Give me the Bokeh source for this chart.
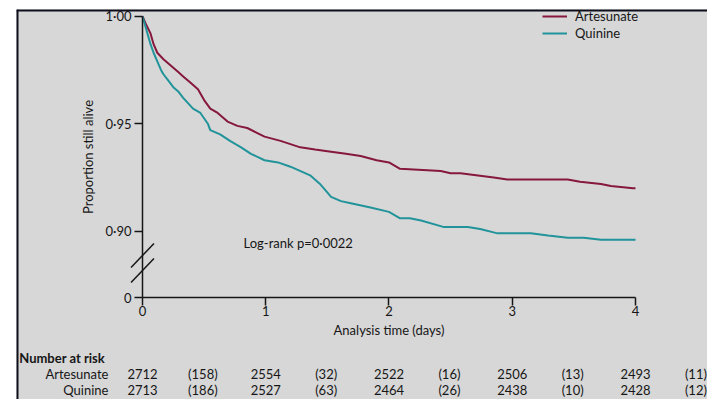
from bokeh.plotting import figure
from bokeh.models import Range1d, FixedTicker, CustomJSTickFormatter, Legend, LegendItem, Label, Span
from bokeh.embed import file_html
from bokeh.resources import INLINE
from bokeh.core.properties import value

# ---- data ----
time_art = [0, 0.03, 0.065, 0.09, 0.12, 0.17, 0.21, 0.25, 0.29, 0.33, 0.39, 0.45, 0.50, 0.55,
            0.61, 0.69, 0.77, 0.85, 0.92, 0.99, 1.12, 1.28, 1.40, 1.53, 1.65, 1.77, 1.90, 2.00,
            2.09, 2.42, 2.50, 2.58, 2.85, 2.96, 3.45, 3.55, 3.72, 3.80, 3.98, 4.0]
surv_art = [1.000, 0.996, 0.992, 0.987, 0.983, 0.980, 0.978, 0.976, 0.974, 0.972, 0.969, 0.966,
            0.961, 0.957, 0.955, 0.951, 0.949, 0.948, 0.946, 0.944, 0.942, 0.939, 0.938, 0.937,
            0.936, 0.935, 0.933, 0.932, 0.929, 0.928, 0.927, 0.927, 0.925, 0.924, 0.924, 0.923,
            0.922, 0.921, 0.920, 0.920]
time_qui = [0, 0.02, 0.04, 0.065, 0.09, 0.12, 0.15, 0.17, 0.21, 0.25, 0.29, 0.33, 0.41, 0.47,
            0.53, 0.55, 0.63, 0.71, 0.80, 0.88, 0.99, 1.10, 1.20, 1.36, 1.44, 1.53, 1.61, 1.69,
            1.85, 2.00, 2.09, 2.17, 2.26, 2.44, 2.64, 2.74, 2.88, 3.15, 3.29, 3.45, 3.58, 3.72, 4.0]
surv_qui = [1.000, 0.996, 0.992, 0.987, 0.983, 0.979, 0.975, 0.973, 0.970, 0.967, 0.965, 0.962,
            0.957, 0.955, 0.950, 0.947, 0.945, 0.942, 0.939, 0.936, 0.933, 0.932, 0.930, 0.926,
            0.922, 0.916, 0.914, 0.913, 0.911, 0.909, 0.906, 0.906, 0.905, 0.902, 0.902, 0.901,
            0.899, 0.899, 0.898, 0.897, 0.897, 0.896, 0.896]

risk_times = [0, 1, 2, 3, 4]
risk_art = [2712, 2554, 2522, 2506, 2493]
cens_art = [158, 32, 16, 13, 11]
risk_qui = [2713, 2527, 2464, 2438, 2428]
cens_qui = [186, 63, 26, 10, 12]
groups = ["Artesunate", "Quinine"]
x_ticks = [0, 1, 2, 3, 4]
y_ticks = [0.90, 0.95, 1.00]
logrank_text = "Log-rank p=0\u00b70022"

# ---- styling / layout constants ----
BG = "#d7d7d7"
INK = "#161616"
FRAME_INK = "#0e0e1c"
RED = "#86173d"
TEAL = "#21939a"
FONT = "Lato"
Y_ZERO = 0.869          # where "0" sits on the broken axis
BREAKS = [0.8887, 0.8817]
Y_HEAD, Y_ART, Y_QUI = 0.84107, 0.83363, 0.82619
X0, X1 = -1.0223, 4.5842
Y0, Y1 = 0.82172, 1.00312

p = figure(width=707, height=399, x_range=Range1d(X0, X1), y_range=Range1d(Y0, Y1),
           toolbar_location=None, output_backend="svg",
           min_border_left=16, min_border_top=9, min_border_right=0, min_border_bottom=0,
           background_fill_color=BG, border_fill_color="white", outline_line_color=None)
p.grid.visible = False

# dark frame lines along the top and left edges of the panel
p.add_layout(Span(location=X0, dimension="height", line_color=FRAME_INK, line_width=4))
p.add_layout(Span(location=Y1, dimension="width", line_color=FRAME_INK, line_width=4))

r_art = p.line(time_art, surv_art, line_color=RED, line_width=2)
r_qui = p.line(time_qui, surv_qui, line_color=TEAL, line_width=2)

# axes
for ax in (p.xaxis[0], p.yaxis[0]):
    ax.axis_line_color = INK
    ax.axis_line_width = 1.5
    ax.major_tick_line_color = INK
    ax.major_tick_line_width = 1.5
    ax.major_tick_out = 8
    ax.major_tick_in = 0
    ax.minor_tick_line_color = None
    ax.major_label_text_font = FONT
    ax.major_label_text_font_size = "13px"
    ax.major_label_text_color = INK
    ax.axis_label_text_font = FONT
    ax.axis_label_text_font_size = "13px"
    ax.axis_label_text_font_style = "normal"
    ax.axis_label_text_color = INK

xa = p.xaxis[0]
xa.fixed_location = Y_ZERO
xa.bounds = (0, 4)
xa.ticker = FixedTicker(ticks=x_ticks, minor_ticks=[])
xa.axis_label = "Analysis time (days)"
xa.major_label_standoff = 0
xa.axis_label_standoff = 3

ya = p.yaxis[0]
ya.fixed_location = 0
ya.bounds = (Y_ZERO, 1.0)
ya.ticker = FixedTicker(ticks=[Y_ZERO] + y_ticks, minor_ticks=[])
ya.formatter = CustomJSTickFormatter(code="return tick < 0.88 ? '0' : tick.toFixed(2).replace('.', '\u00b7');")
ya.axis_label = "Proportion still alive"
ya.major_label_standoff = 3
ya.axis_label_standoff = 6

# axis break marks
dx, dy = 0.093, 0.0056
p.segment(x0=[-dx] * len(BREAKS), y0=[b - dy for b in BREAKS],
          x1=[dx] * len(BREAKS), y1=[b + dy for b in BREAKS], line_color=INK, line_width=1.5)

# log-rank annotation
p.add_layout(Label(x=0.82, y=0.8947, text=logrank_text, text_font=FONT, text_font_size="13px",
                   text_color=INK, text_baseline="middle", text_align="left"))

# legend
legend = Legend(items=[LegendItem(label=groups[0], renderers=[r_art]),
                       LegendItem(label=groups[1], renderers=[r_qui])],
                location=(526, 358), padding=0, spacing=1, margin=0,
                glyph_width=25, glyph_height=16, label_height=16, label_standoff=8,
                label_text_font=FONT, label_text_font_size="13px", label_text_color=INK,
                border_line_color=None, background_fill_alpha=0)
p.add_layout(legend)

# number-at-risk table
txt = dict(text_font=value(FONT), text_font_size=value("13px"), text_color=INK, text_baseline="middle")
p.text(x=[-1.0], y=[Y_HEAD], text=["Number at risk"], text_align="left", text_font_style="bold", **txt)
p.text(x=[-0.276, -0.276], y=[Y_ART, Y_QUI], text=groups, text_align="right", **txt)
for row_y, at_risk, cens in ((Y_ART, risk_art, cens_art), (Y_QUI, risk_qui, cens_qui)):
    p.text(x=risk_times, y=[row_y] * len(risk_times), text=[str(v) for v in at_risk],
           text_align="center", **txt)
    p.text(x=[t + 0.49 for t in risk_times], y=[row_y] * len(risk_times),
           text=["(%d)" % c for c in cens], text_align="center", **txt)

open("out.html", "w").write(file_html(p, INLINE))
